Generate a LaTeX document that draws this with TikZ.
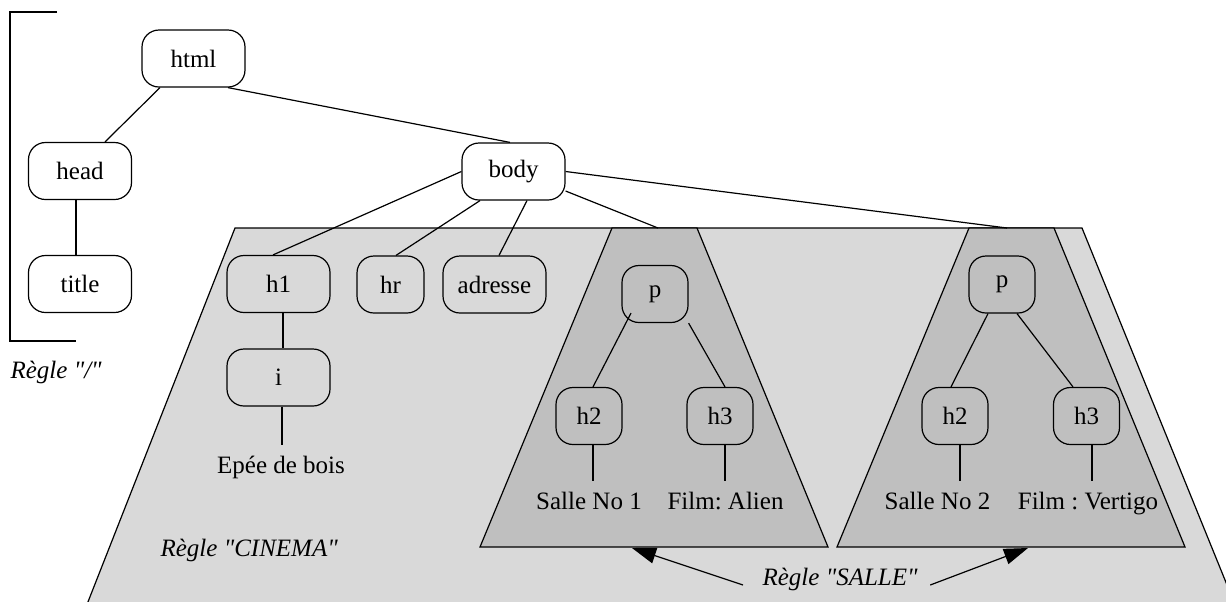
\documentclass[tikz,border=0pt]{standalone}
\usepackage{fontspec}
\setmainfont{Liberation Serif}
\usetikzlibrary{arrows.meta}
\definecolor{cinemagray}{gray}{0.85}
\definecolor{sallegray}{gray}{0.75}
\frenchspacing

\begin{document}
\begin{tikzpicture}[x=0.5pt, y=-0.5pt, line width=0.6pt,
  >={Triangle[length=12pt, width=8pt]},
  font=\fontsize{12.5}{15}\selectfont,
  elem/.style={draw, rounded corners=8.5pt, minimum height=28.5pt, inner sep=0pt},
  wide/.style={elem, minimum width=51.5pt},
  narrow/.style={elem, minimum width=33pt},
  leaf/.style={anchor=base, inner sep=5pt},
  regle/.style={anchor=base west, inner sep=0pt,
    font=\fontsize{12.5}{15}\selectfont\itshape}]
  \useasboundingbox (0,0) rectangle (1226,601);
  % rule "/": bracket round html, head, title
  \draw (57,12) -- (10,12) -- (10,341) -- (76,341);
  \node[regle] (regleracine) at (10,378) {Règle \textquotedbl/\textquotedbl};
  % rule "CINEMA": light region under body
  \draw[fill=cinemagray] (84,612) -- (235,228) -- (1082,228) -- (1238,612);
  % rule "SALLE": the two dark triangles
  \foreach \dx in {0,357} {
    \draw[fill=sallegray] (480+\dx,547) -- (612+\dx,228) -- (697+\dx,228)
      -- (828+\dx,547) -- cycle;
  }
  \coordinate (topA) at (658,228);
  \coordinate (topB) at (1007,228);
  \coordinate (tipA) at (632,548);
  \coordinate (tipB) at (1028,548);
  % document tree
  \node[wide] (html) at (193.5,58.5) {html};
  \node[wide] (head) at (80,171) {head};
  \node[wide] (title) at (80,284) {title};
  \node[wide] (body) at (513.5,171.5) {body};
  \node[wide] (h1) at (278.5,284) {h1};
  \node[wide] (i) at (278.5,377.5) {i};
  \node[narrow, minimum width=33.5pt] (hr) at (390.5,284.5) {hr};
  \node[wide] (adresse) at (494.5,284.5) {adresse};
  \node[narrow] (pA) at (655,294) {p};
  \node[narrow] (h2A) at (589,416) {h2};
  \node[narrow] (h3A) at (720,416) {h3};
  \node[narrow] (pB) at (1002,284.5) {p};
  \node[narrow] (h2B) at (955,416) {h2};
  \node[narrow] (h3B) at (1086.5,416) {h3};
  % text leaves
  \node[leaf] (epee) at (281,473) {Epée de bois};
  \node[leaf] (salleA) at (589,509) {Salle No 1};
  \node[leaf] (alien) at (725.5,509) {Film: Alien};
  \node[leaf] (salleB) at (937.5,509) {Salle No 2};
  \node[leaf] (vertigo) at (1088,509) {Film : Vertigo};
  % edges
  \draw ([xshift=-16.75pt]html.south) -- ([xshift=12.5pt]head.north);
  \draw ([xshift=17.25pt]html.south) -- ([xshift=-1.75pt]body.north);
  \draw ([xshift=-2pt]head.south) -- ([xshift=-2pt]title.north);
  \draw (body.west) -- ([xshift=-2.75pt]h1.north);
  \draw ([xshift=-16.75pt]body.south) -- ([xshift=2.75pt]hr.north);
  \draw ([xshift=6.75pt]body.south) -- ([xshift=2.25pt]adresse.north);
  \draw ([yshift=-9.75pt]body.east) -- (topA);
  \draw (body.east) -- (topB);
  \draw ([xshift=2.25pt]h1.south) -- ([xshift=2.25pt]i.north);
  \draw ([shift={(-12pt,5pt)}]pA.south) -- ([xshift=2pt]h2A.north);
  \draw (pA.south east) -- ([xshift=2.5pt]h3A.north);
  \draw ([xshift=-7pt]pB.south) -- ([xshift=-2pt]h2B.north);
  \draw ([xshift=7.5pt]pB.south) -- ([xshift=-6.75pt]h3B.north);
  \foreach \a/\b/\s in {i/epee/1.75pt, h2A/salleA/2pt, h3A/alien/2.5pt,
      h2B/salleB/2.5pt, h3B/vertigo/2.75pt}
    \draw ([xshift=\s]\a.south) -- ([xshift=\s]\a.south |- \b.north);
  % rule labels
  \node[regle] (reglecinema) at (160,556)
    {Règle \textquotedbl CINEMA\textquotedbl};
  \node[regle] (reglesalle) at (762,585)
    {Règle \textquotedbl SALLE\textquotedbl};
  \draw[->] ([xshift=-9.5pt]reglesalle.base west) -- (tipA);
  \draw[->] ([xshift=6pt]reglesalle.base east) -- (tipB);
\end{tikzpicture}
\end{document}
